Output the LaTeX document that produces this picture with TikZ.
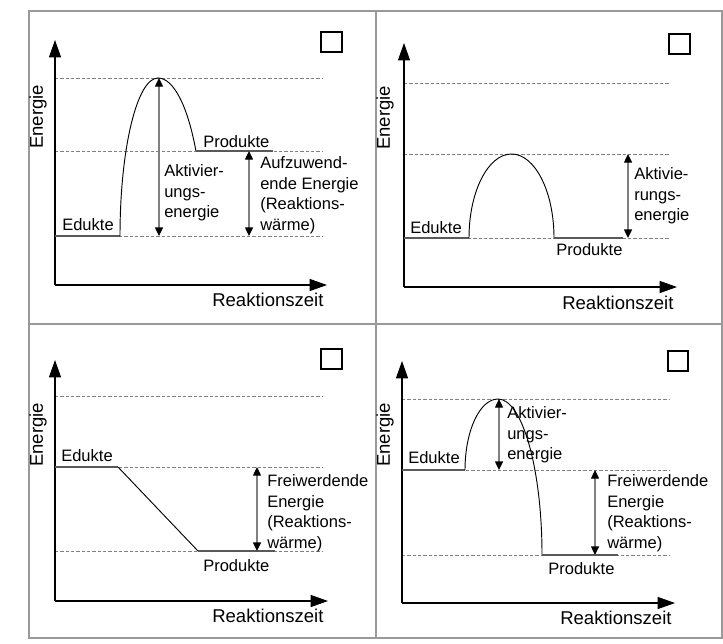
\documentclass[tikz,border=0pt]{standalone}
\usepackage{fontspec}
\setmainfont{Liberation Sans}
\usetikzlibrary{arrows.meta}
\tikzset{
  frame/.style={draw=black!40, line width=1.5pt},
  guide/.style={draw=black!50, line width=0.5pt, dash pattern=on 2.5pt off 1.5pt},
  axis/.style={draw=black, line width=0.8pt, -{Triangle[length=13pt,width=9pt]}},
  level/.style={draw=black!65, line width=1.2pt},
  curve/.style={draw=black, line width=0.7pt},
  dim/.style={draw=black!50, line width=1pt, {Triangle[length=6.5pt,width=6pt,color=black]}-{Triangle[length=6.5pt,width=6pt,color=black]}},
  lbl/.style={font=\fontsize{12.4}{15.4}\selectfont, inner sep=0pt, align=left, anchor=west},
  axlbl/.style={font=\fontsize{13.9}{16}\selectfont, inner sep=0pt},
  cbox/.style={draw=black, line width=1.5pt, minimum width=15.5pt, minimum height=15pt, inner sep=0pt}
}
\begin{document}
\begin{tikzpicture}[x=0.75pt,y=-0.75pt]
\useasboundingbox (0,0) rectangle (723,643);
% frame
\draw[frame] (29,11) rectangle (722,638);
\draw[frame] (376,11) -- (376,638);
\draw[frame] (29,324) -- (722,324);

% ================= Panel 1 =================
\coordinate (o1) at (55,285);
\coordinate (y1) at (55,40);
\coordinate (x1) at (327,285);
\draw[guide] (55,78) -- (322,78);
\draw[guide] (55,151) -- (322,151);
\draw[guide] (55,236) -- (322,236);
\draw[axis] (o1) -- (y1);
\draw[axis] (o1) -- (x1);
\node[cbox] (cb1) at (331.5,42) {};
\draw[level] (55,236) -- (120,236);
\draw[curve] (120,236) arc[start angle=180, end angle=270, x radius=38, y radius=158]
  arc[start angle=270, end angle=327.5, x radius=45, y radius=158];
\draw[level] (196,151) -- (273,151);
\coordinate (a1t) at (159,78);
\coordinate (a1b) at (159,236);
\draw[dim] (a1t) -- (a1b);
\coordinate (r1t) at (249,151);
\coordinate (r1b) at (249,236);
\draw[dim] (r1t) -- (r1b);
\node[lbl] (ed1) at (62,225) {Edukte};
\node[lbl] (pr1) at (203,142) {Produkte};
\node[lbl] (ak1) at (164,193) {Aktivier-\\ungs-\\energie};
\node[lbl] (au1) at (260,195) {Aufzuwend-\\ende Energie\\(Reaktions-\\wärme)};
\node[axlbl, rotate=90] (en1) at (38,117) {Energie};
\node[axlbl, anchor=west] (rz1) at (212,300) {Reaktionszeit};

% ================= Panel 2 =================
\coordinate (o2) at (404,287);
\coordinate (y2) at (404,43);
\coordinate (x2) at (677,287);
\draw[guide] (404,83) -- (670,83);
\draw[guide] (404,154) -- (670,154);
\draw[guide] (404,238) -- (670,238);
\draw[axis] (o2) -- (y2);
\draw[axis] (o2) -- (x2);
\node[cbox] (cb2) at (679.5,43.5) {};
\draw[level] (404,238) -- (469,238);
\draw[curve] (469,238) arc[start angle=180, end angle=270, x radius=42.5, y radius=84]
  arc[start angle=270, end angle=360, x radius=42.5, y radius=84];
\draw[level] (554,238) -- (623,238);
\coordinate (a2t) at (628,154);
\coordinate (a2b) at (628,238);
\draw[dim] (a2t) -- (a2b);
\node[lbl] (ed2) at (410,228) {Edukte};
\node[lbl] (pr2) at (556,250) {Produkte};
\node[lbl] (ak2) at (634,196) {Aktivie-\\rungs-\\energie};
\node[axlbl, rotate=90] (en2) at (385,118) {Energie};
\node[axlbl, anchor=west] (rz2) at (562,303) {Reaktionszeit};

% ================= Panel 3 =================
\coordinate (o3) at (55,601);
\coordinate (y3) at (55,360);
\coordinate (x3) at (328,601);
\draw[guide] (55,396) -- (322,396);
\draw[guide] (55,467) -- (322,467);
\draw[guide] (55,551) -- (322,551);
\draw[axis] (o3) -- (y3);
\draw[axis] (o3) -- (x3);
\node[cbox] (cb3) at (331.5,358.5) {};
\draw[level] (55,467) -- (118,467);
\draw[curve] (118,467) -- (198,551);
\draw[level] (198,551) -- (275,551);
\coordinate (r3t) at (257,467);
\coordinate (r3b) at (257,551);
\draw[dim] (r3t) -- (r3b);
\node[lbl] (ed3) at (61,456) {Edukte};
\node[lbl] (pr3) at (203,566) {Produkte};
\node[lbl] (fr3) at (267,513) {Freiwerdende\\Energie\\(Reaktions-\\wärme)};
\node[axlbl, rotate=90] (en3) at (38,435) {Energie};
\node[axlbl, anchor=west] (rz3) at (212,616) {Reaktionszeit};

% ================= Panel 4 =================
\coordinate (o4) at (402,603);
\coordinate (y4) at (402,361);
\coordinate (x4) at (675,603);
\draw[guide] (402,399) -- (669,399);
\draw[guide] (402,470) -- (669,470);
\draw[guide] (402,555) -- (669,555);
\draw[axis] (o4) -- (y4);
\draw[axis] (o4) -- (x4);
\node[cbox] (cb4) at (678,361) {};
\draw[level] (402,470) -- (465,470);
\draw[curve] (465,470) arc[start angle=180, end angle=270, x radius=33, y radius=71]
  arc[start angle=270, end angle=360, x radius=44, y radius=156];
\draw[level] (542,555) -- (618,555);
\coordinate (a4t) at (499,399);
\coordinate (a4b) at (499,470);
\draw[dim] (a4t) -- (a4b);
\coordinate (r4t) at (595,470);
\coordinate (r4b) at (595,555);
\draw[dim] (r4t) -- (r4b);
\node[lbl] (ed4) at (408,458) {Edukte};
\node[lbl] (pr4) at (548,569) {Produkte};
\node[lbl] (ak4) at (507,435) {Aktivier-\\ungs-\\energie};
\node[lbl] (fr4) at (607,513) {Freiwerdende\\Energie\\(Reaktions-\\wärme)};
\node[axlbl, rotate=90] (en4) at (385,435) {Energie};
\node[axlbl, anchor=west] (rz4) at (560,618) {Reaktionszeit};
\end{tikzpicture}
\end{document}
